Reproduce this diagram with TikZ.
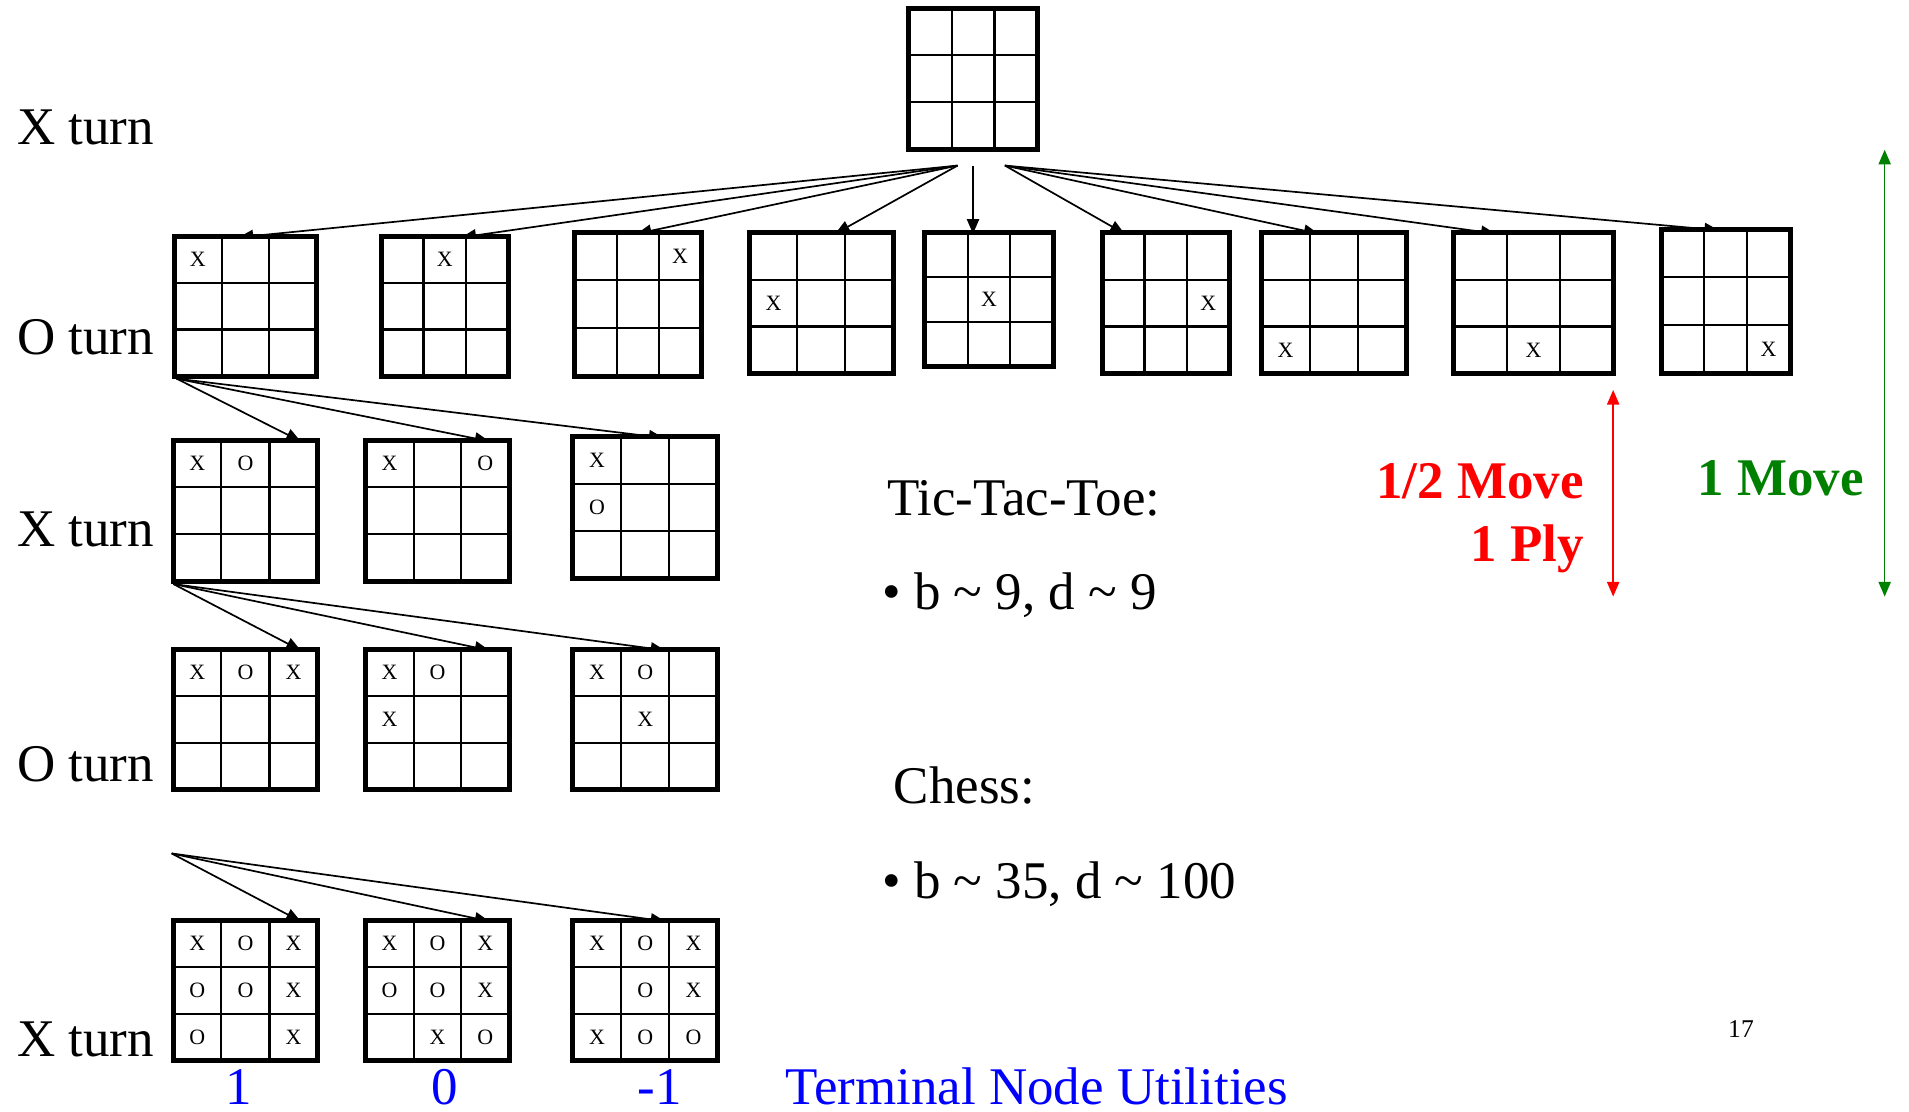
\documentclass[tikz,border=0pt]{standalone}
\usepackage{fontspec}
\setmainfont{Liberation Serif}
\usetikzlibrary{arrows.meta,calc}
\definecolor{movegreen}{RGB}{0,128,0}
\pgfdeclarelayer{bg}
\pgfsetlayers{bg,main}
\tikzset{
  board/.style={draw=black, line width=4pt, fill=white, inner sep=0pt, outer sep=0pt, rectangle},
  gridln/.style={line width=1.7pt},
  markstyle/.style={font=\fontsize{18}{20}\selectfont, inner sep=0pt},
  arr/.style={line width=1.4pt, -{Triangle[length=12pt,width=10pt]}},
  lbl/.style={font=\fontsize{43.5}{50}\selectfont, inner sep=0pt, anchor=base west},
  util/.style={font=\fontsize{43.5}{50}\selectfont, inner sep=0pt, anchor=base, text=blue, text depth=0pt},
  plylbl/.style={font=\fontsize{43.5}{50}\selectfont\bfseries, inner sep=0pt},
  dbl/.style={line width=1.2pt, {Triangle[length=12pt,width=10pt]}-{Triangle[length=12pt,width=10pt]}}
}
% name, x1, y1, x2, y2 (border centre line), marks as col/row/text
\newcommand\tttboard[6]{%
  \node[board, minimum width={#4-#2}, minimum height={#5-#3}] (#1) at ({(#2+#4)/2},{(#3+#5)/2}) {};
  \foreach \k in {1,2} {
    \draw[gridln] ($(#1.north west)!\k/3!(#1.north east)$) -- ($(#1.south west)!\k/3!(#1.south east)$);
    \draw[gridln] ($(#1.north west)!\k/3!(#1.south west)$) -- ($(#1.north east)!\k/3!(#1.south east)$);
  }
  \def\tmpmarks{#6}%
  \ifx\tmpmarks\empty\else
    \foreach \c/\r/\t in {#6} {
      \node[markstyle] at ({#2+(\c-0.5)*(#4-#2)/3},{#3+(\r-0.5)*(#5-#3)/3}) {\t};
    }
  \fi
}
\begin{document}
\begin{tikzpicture}[x=1pt,y=-1pt]
\useasboundingbox (0,0) rectangle (1568,913);

% root
\tttboard{root}{746.5}{7}{852}{122.6}{}
% level 1
\tttboard{b1}{143}{194}{260}{309}{1/1/X}
\tttboard{b2}{313}{194}{417.5}{309}{2/1/X}
\tttboard{b3}{471.6}{191}{576}{309}{3/1/X}
\tttboard{b4}{615.6}{191}{733.8}{306.8}{1/2/X}
\tttboard{b5}{759.7}{191}{865}{301}{2/2/X}
\tttboard{b6}{905.2}{191}{1009.8}{306.8}{3/2/X}
\tttboard{b7}{1036}{191}{1155}{306.8}{1/3/X}
\tttboard{b8}{1193.8}{191}{1325.4}{306.8}{2/3/X}
\tttboard{b9}{1364.6}{188.2}{1470.3}{306.8}{3/3/X}
% level 2
\tttboard{c1}{142.4}{361.5}{260.8}{477.7}{1/1/X,2/1/O}
\tttboard{c2}{300.4}{361.5}{418.3}{477.7}{1/1/X,3/1/O}
\tttboard{c3}{470.5}{358.7}{589.4}{475}{1/1/X,1/2/O}
% level 3
\tttboard{d1}{142.4}{533.2}{260.8}{648.8}{1/1/X,2/1/O,3/1/X}
\tttboard{d2}{300.4}{533.2}{418.3}{648.8}{1/1/X,2/1/O,1/2/X}
\tttboard{d3}{470.5}{533.2}{589.4}{648.8}{1/1/X,2/1/O,2/2/X}
% level 4
\tttboard{e1}{142.4}{755.8}{260.8}{870.9}{1/1/X,2/1/O,3/1/X,1/2/O,2/2/O,3/2/X,1/3/O,3/3/X}
\tttboard{e2}{300.4}{755.8}{418.3}{870.9}{1/1/X,2/1/O,3/1/X,1/2/O,2/2/O,3/2/X,2/3/X,3/3/O}
\tttboard{e3}{470.5}{755.8}{589.4}{870.9}{1/1/X,2/1/O,3/1/X,2/2/O,3/2/X,1/3/X,2/3/O,3/3/O}

% arrow origins
\coordinate (rL) at (786.5,136);
\coordinate (rC) at (799.2,136);
\coordinate (rR) at (825.4,136);
\coordinate (fork) at (141,701);

\begin{pgfonlayer}{bg}
\draw[arr] (rL) -- ([xshift=53pt,yshift=-1pt]b1.north west);
\draw[arr] (rL) -- ([xshift=66pt,yshift=-1pt]b2.north west);
\draw[arr] (rL) -- ([xshift=51.4pt,yshift=-1pt]b3.north west);
\draw[arr] (rL) -- ([xshift=70.4pt,yshift=-1pt]b4.north west);
\draw[arr] (rC) -- ([xshift=39.5pt,yshift=-1pt]b5.north west);
\draw[arr] (rR) -- ([xshift=18.5pt,yshift=-1pt]b6.north west);
\draw[arr] (rR) -- ([xshift=47pt,yshift=-1pt]b7.north west);
\draw[arr] (rR) -- ([xshift=34.7pt,yshift=-1pt]b8.north west);
\draw[arr] (rR) -- ([xshift=47.4pt,yshift=-1pt]b9.north west);

\draw[arr] ([xshift=2pt,yshift=-2pt]b1.south west) -- ([xshift=104.6pt,yshift=-1pt]c1.north west);
\draw[arr] ([xshift=2pt,yshift=-2pt]b1.south west) -- ([xshift=101.6pt,yshift=-1pt]c2.north west);
\draw[arr] ([xshift=2pt,yshift=-2pt]b1.south west) -- ([xshift=74.5pt,yshift=-1pt]c3.north west);

\draw[arr] ([yshift=-2pt]c1.south west) -- ([xshift=104.6pt,yshift=-1pt]d1.north west);
\draw[arr] ([yshift=-2pt]c1.south west) -- ([xshift=101.6pt,yshift=-1pt]d2.north west);
\draw[arr] ([yshift=-2pt]c1.south west) -- ([xshift=76pt,yshift=-1pt]d3.north west);

\draw[arr] (fork) -- ([xshift=104.6pt,yshift=-1pt]e1.north west);
\draw[arr] (fork) -- ([xshift=101.6pt,yshift=-1pt]e2.north west);
\draw[arr] (fork) -- ([xshift=76pt,yshift=-1pt]e3.north west);
\end{pgfonlayer}

% turn labels
\node[lbl] (t1) at (14,118.3) {X turn};
\node[lbl] (t2) at (14,290.8) {O turn};
\node[lbl] (t3) at (14,449) {X turn};
\node[lbl] (t4) at (14,642) {O turn};
\node[lbl] (t5) at (14,867.4) {X turn};

% text
\node[lbl] (ttt) at (728.5,423) {Tic-Tac-Toe:};
\node[lbl] (tttb) at (724.5,501) {• b \textasciitilde{} 9, d \textasciitilde{} 9};
\node[lbl] (chess) at (734,659.8) {Chess:};
\node[lbl] (chessb) at (724.5,737.8) {• b \textasciitilde{} 35, d \textasciitilde{} 100};

% utilities
\node[util] (u1) at (195.8,907) {1};
\node[util] (u2) at (365.6,907) {0};
\node[util] (u3) at (541.8,907) {-1};
\node[lbl, text=blue, text depth=0pt] (tnu) at (645,907) {Terminal Node Utilities};

% ply / move
\coordinate (redtop) at (1325,320.3);
\coordinate (redbot) at (1325,490);
\coordinate (greentop) at (1548,123);
\coordinate (greenbot) at (1548,490);
\draw[dbl, red] (redtop) -- (redbot);
\draw[dbl, movegreen] (greentop) -- (greenbot);
\node[plylbl, text=red, anchor=base east] (half) at (1301,409.3) {1/2 Move};
\node[plylbl, text=red, anchor=base east] (ply) at (1301,461.3) {1 Ply};
\node[plylbl, text=movegreen, anchor=base east] (onemove) at (1531,406.6) {1 Move};

\node[font=\fontsize{21}{24}\selectfont, inner sep=0pt, anchor=base] (pg) at (1430,851.8) {17};
\end{tikzpicture}
\end{document}
